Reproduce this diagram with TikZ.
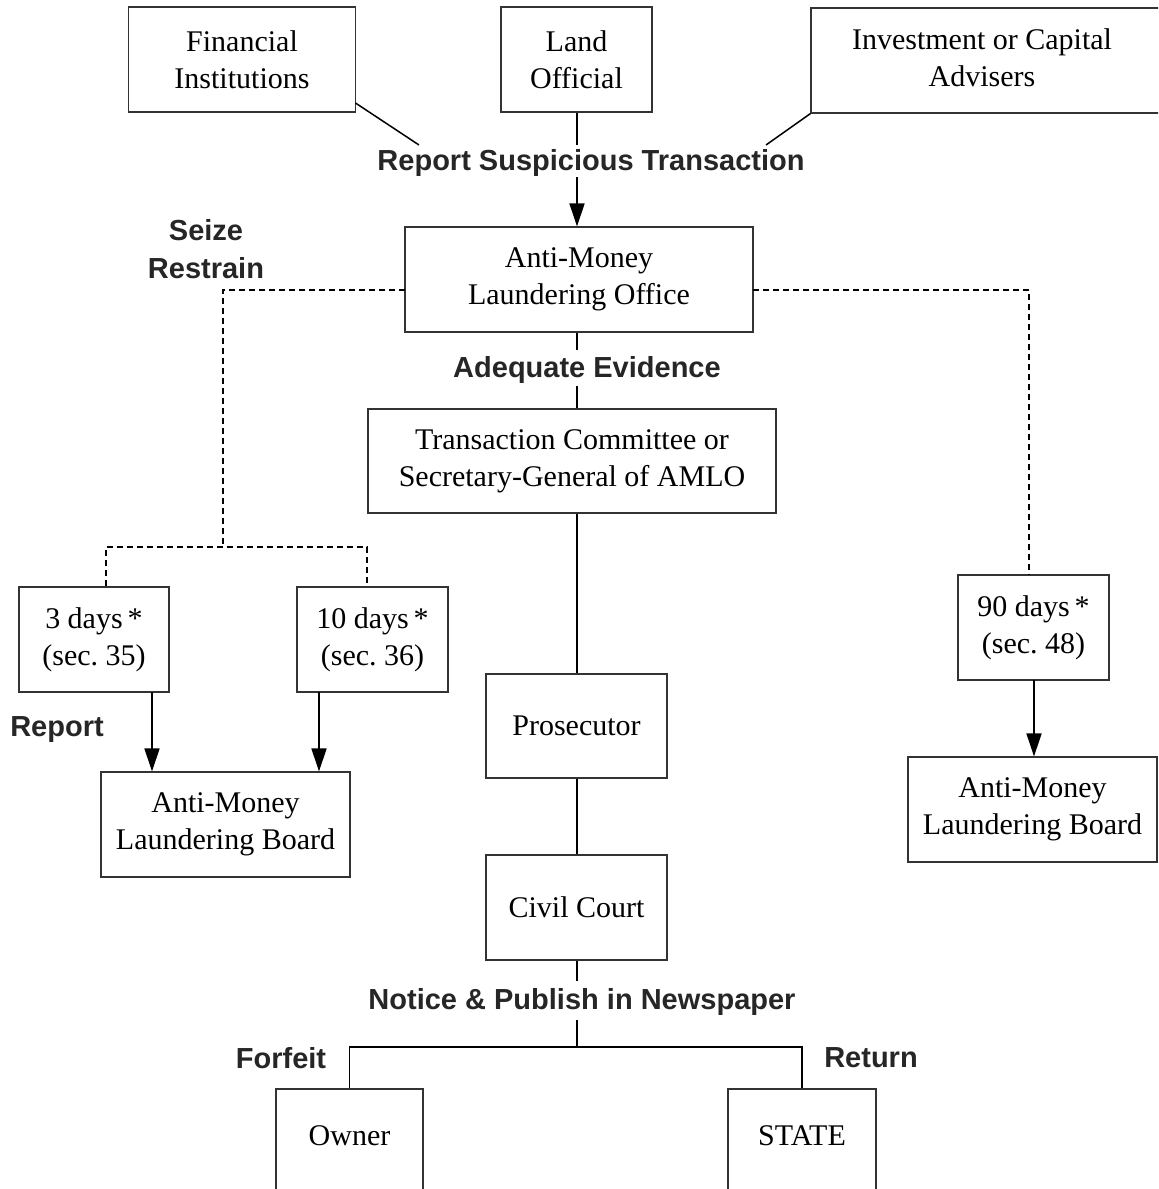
\documentclass[tikz,border=0pt]{standalone}
\usepackage{fontspec}
\setmainfont{Liberation Serif}
\newfontfamily\labfont{Liberation Sans}
\usetikzlibrary{arrows.meta}
\begin{document}
\begin{tikzpicture}[x=0.5pt,y=-0.5pt,
  box/.style={draw=black!80,line width=0.55pt,align=center,inner sep=0pt,
    font=\fontsize{15}{18.5}\selectfont},
  lab/.style={inner sep=0pt,align=center,text=black!85,
    font=\labfont\bfseries\fontsize{14.5}{19}\selectfont},
  conn/.style={line width=0.75pt},
  dconn/.style={line width=0.7pt,dash pattern=on 3pt off 2pt},
  arr/.style={line width=0.75pt,-{Triangle[length=11.5pt,width=7.5pt]}}]
\useasboundingbox (0,0) rectangle (1158,1189);
\clip (0,0) rectangle (1158,1189);
\fill[white] (0,0) rectangle (1158,1189);
% boxes
\node[box,minimum width=113.5pt,minimum height=52.5pt] (fin) at (242,59.5) {Financial\\Institutions};
\node[box,minimum width=75.5pt,minimum height=52.5pt] (land) at (576.5,59.5) {Land\\Official};
\node[box,minimum width=200pt,minimum height=52.5pt] (inv) at (1011,60.5) {\begin{tabular}{@{}c@{}}Investment or Capital\\Advisers\end{tabular}\hspace*{29pt}};
\node[box,minimum width=174pt,minimum height=52.5pt] (amlo) at (579,279.5) {Anti-Money\\Laundering Office};
\node[box,minimum width=204pt,minimum height=52pt] (tc) at (572,461) {Transaction Committee or\\Secretary-General of AMLO};
\node[box,minimum width=90.5pt,minimum height=52pt] (pros) at (576.5,726) {Prosecutor};
\node[box,minimum width=90.5pt,minimum height=52.5pt] (cc) at (576.5,907.5) {Civil Court};
\node[box,minimum width=75pt,minimum height=52.5pt] (d3) at (94,639.5) {3 days\,*\\(sec.\ 35)};
\node[box,minimum width=75.5pt,minimum height=52.5pt] (d10) at (372.5,639.5) {10 days\,*\\(sec.\ 36)};
\node[box,minimum width=75.5pt,minimum height=52.5pt] (d90) at (1033.5,627.5) {90 days\,*\\(sec.\ 48)};
\node[box,minimum width=124.5pt,minimum height=52.5pt] (brd1) at (225.5,824.5) {Anti-Money\\Laundering Board};
\node[box,minimum width=124.5pt,minimum height=52.5pt] (brd2) at (1032.5,809.5) {Anti-Money\\Laundering Board};
\node[box,minimum width=73.5pt,minimum height=55.5pt] (own) at (349.5,1144.5) {\raisebox{8.5pt}{Owner}};
\node[box,minimum width=74pt,minimum height=55.5pt] (state) at (802,1144.5) {\raisebox{8.5pt}{STATE}};
% labels
\node[lab] (rst) at (591,163) {Report Suspicious Transaction};
\node[lab] (seize) at (206,249) {Seize\\Restrain};
\node[lab] (ae) at (587,370) {Adequate Evidence};
\node[lab] (rep) at (57,730) {Report};
\node[lab] (notice) at (582,1002) {Notice \& Publish in Newspaper};
\node[lab] (forf) at (281,1058) {Forfeit};
\node[lab] (ret) at (871,1058) {Return};
% helper coordinates
\coordinate (c1) at (419,145);
\coordinate (c2) at (766,145);
\coordinate (finr) at (355.5,103);
\coordinate (top) at (577,145);
\coordinate (mid) at (577,177);
\coordinate (amw) at (405,290);
\coordinate (ame) at (753,290);
\coordinate (lbr) at (223,290);
\coordinate (rbr) at (1029,290);
\coordinate (lj) at (223,547);
\coordinate (ljl) at (106,547);
\coordinate (ljr) at (367,547);
\coordinate (a3) at (152,692);
\coordinate (a10) at (319,692);
\coordinate (a90) at (1034,680);
\coordinate (bj) at (577,1047);
\coordinate (bjl) at (349.5,1047);
\coordinate (bjr) at (802,1047);
% solid connectors
\draw[conn] (finr) -- (c1);
\draw[conn] (inv.south west) -- (c2);
\draw[conn] (land.south -| top) -- (top);
\draw[arr] (mid) -- (mid |- amlo.north);
\draw[conn] (amlo.south -| top) -- (577,350);
\draw[conn] (577,386) -- (tc.north -| top);
\draw[conn] (tc.south -| top) -- (pros.north -| top);
\draw[conn] (pros.south -| top) -- (cc.north -| top);
\draw[conn] (cc.south -| top) -- (577,981);
\draw[conn] (577,1020) -- (bj);
\draw[conn] (own.north) -- (bjl) -- (bjr) -- (state.north);
% dashed connectors
\draw[dconn] (amw) -- (lbr) -- (lj);
\draw[dconn] (d3.north -| ljl) -- (ljl) -- (ljr) -- (d10.north -| ljr);
\draw[dconn] (ame) -- (rbr) -- (d90.north -| rbr);
% arrows
\draw[arr] (a3) -- (a3 |- brd1.north);
\draw[arr] (a10) -- (a10 |- brd1.north);
\draw[arr] (a90) -- (a90 |- brd2.north);
\end{tikzpicture}
\end{document}
